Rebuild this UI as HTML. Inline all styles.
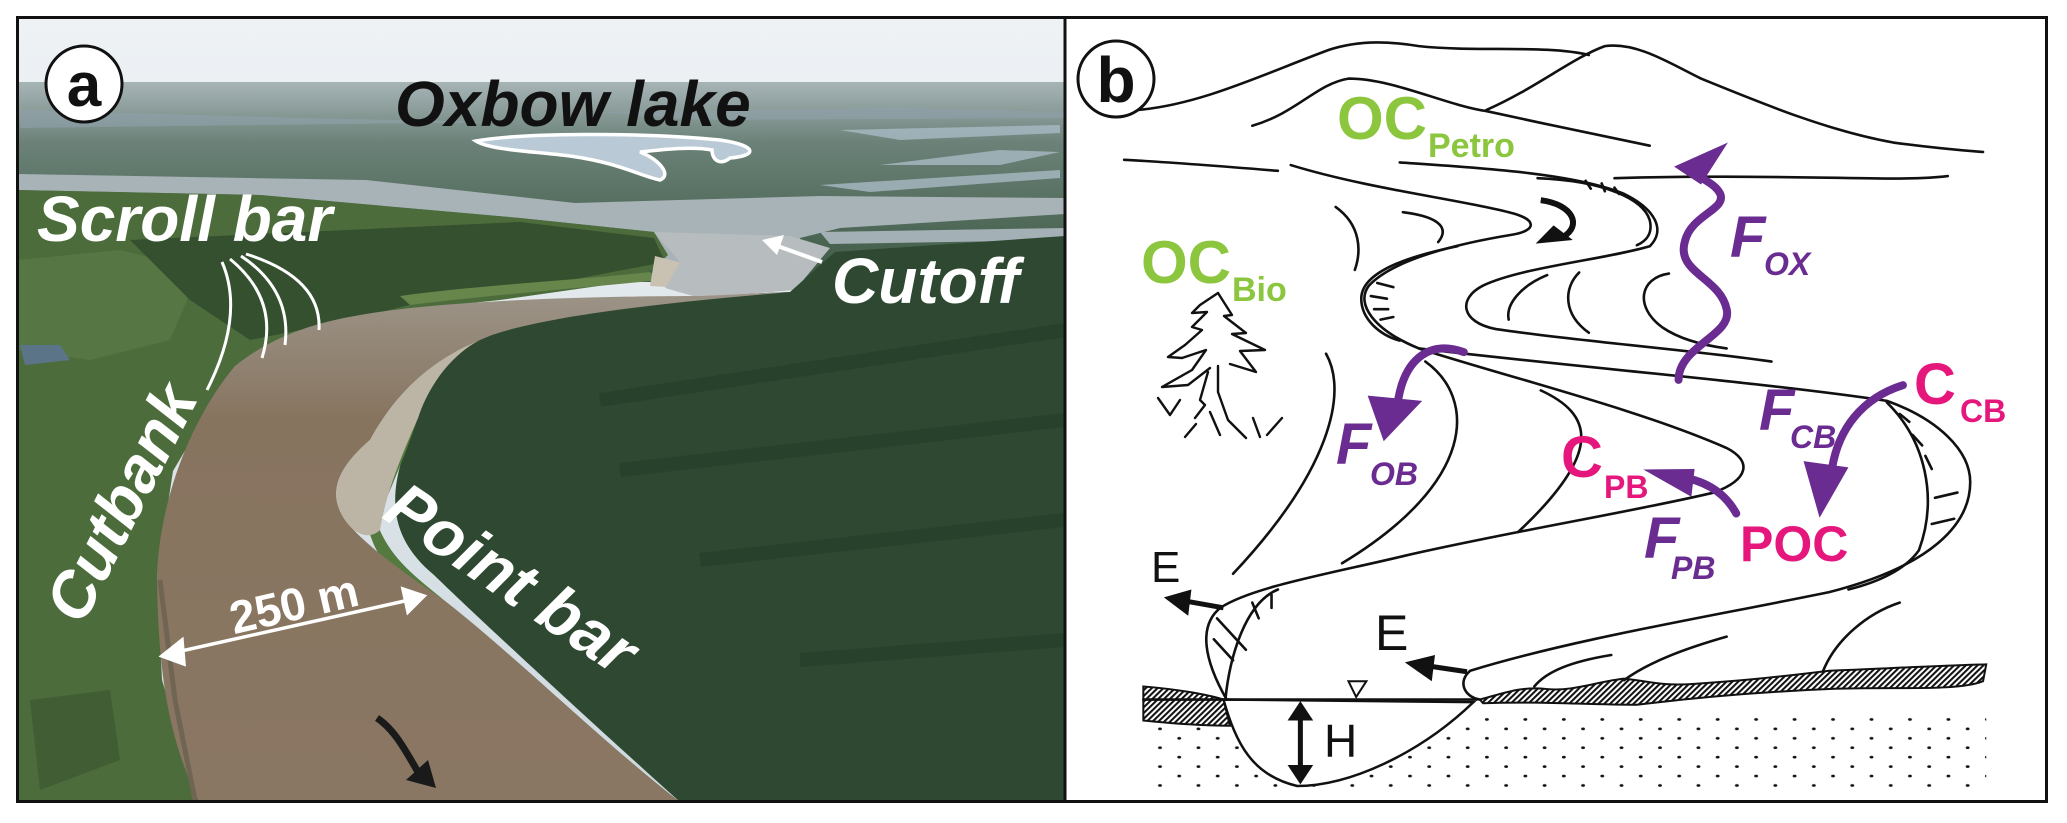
<!DOCTYPE html>
<html><head><meta charset="utf-8"><style>
html,body{margin:0;padding:0;background:#fff;width:2067px;height:823px;overflow:hidden}
svg{display:block}
text{font-family:"Liberation Sans",Arial,sans-serif}
</style></head><body>
<svg width="2067" height="823" viewBox="0 0 2067 823" xmlns="http://www.w3.org/2000/svg">
<defs>
<linearGradient id="sky" x1="0" y1="0" x2="0" y2="1">
<stop offset="0" stop-color="#eef2f5"/><stop offset="1" stop-color="#cdd8de"/></linearGradient>
<linearGradient id="far" x1="0" y1="0" x2="0" y2="1">
<stop offset="0" stop-color="#a7b4b7"/><stop offset="0.3" stop-color="#6c8279"/><stop offset="1" stop-color="#3c5842"/></linearGradient>
<linearGradient id="riv" x1="0" y1="0" x2="0" y2="1">
<stop offset="0" stop-color="#9c9488"/><stop offset="0.25" stop-color="#87745f"/><stop offset="1" stop-color="#8a7763"/></linearGradient>
<clipPath id="ca"><rect x="17" y="17" width="1048" height="785"/></clipPath>
<pattern id="dots" width="60" height="36" patternUnits="userSpaceOnUse">
<ellipse cx="6" cy="5" rx="3" ry="2.6" fill="#111"/><ellipse cx="36" cy="23" rx="3" ry="2.6" fill="#111"/></pattern>
<pattern id="hatch" width="7" height="7" patternUnits="userSpaceOnUse" patternTransform="rotate(40)">
<rect width="7" height="7" fill="#fff"/><rect width="3.5" height="7" fill="#111"/></pattern>
</defs>

<!-- PANEL A -->
<g clip-path="url(#ca)">
<rect x="17" y="17" width="1048" height="785" fill="url(#sky)"/>
<rect x="17" y="82" width="1048" height="200" fill="url(#far)"/>
<path d="M20,110 L300,118 L500,122 L20,128Z M600,112 L900,108 L1065,112 L1065,118 L700,120Z" fill="#8fa2ab" opacity="0.6"/>
<path d="M840,130 L1060,125 L1060,133 L900,140Z M880,165 L1000,150 L1060,152 L1000,165Z M820,185 L1060,170 L1060,178 L870,192Z" fill="#a9bac4" opacity="0.8"/>
<path d="M17,174 L366,180 L575,203 L820,196 L1065,198 L1065,214 L840,228 L800,238 L790,285 L700,292 L660,282 L654,232 L520,218 L260,195 L17,190Z" fill="#a8b3b8"/>
<path d="M820,232 L1065,228 L1065,240 L830,244Z" fill="#a3b0b6"/>
<path d="M17,190 L260,195 L520,218 L654,232 L668,255 L640,280 L500,300 L366,314 L235,366 L173,471 L157,575 L162,680 L199,802 L17,802Z" fill="#4d6c3c"/>
<path d="M17,260 L120,250 L200,270 L170,340 L90,360 L17,350Z" fill="#5a7a47" opacity="0.7"/>
<path d="M20,345 L60,345 L70,360 L25,365Z" fill="#5b7488"/>
<path d="M30,700 L110,690 L120,760 L40,790Z" fill="#3d5a32" opacity="0.8"/>
<path d="M130,240 L520,222 L654,238 L665,262 L560,282 L430,300 L340,322 L250,340 L190,300Z" fill="#34502f"/>
<path d="M400,296 C480,285 580,280 650,272 L660,280 C580,288 480,296 410,305Z" fill="#66864c"/>
<path d="M655,256 L690,265 L685,288 L650,286Z" fill="#c9c2b2"/>
<path d="M654,232 L790,236 L830,248 L795,290 L700,298 L665,288 L680,262Z" fill="#b7bdbf"/>
<path d="M492,330 C600,305 700,295 790,292 L835,252 L1065,236 L1065,802 L680,802 C600,730 480,620 434,575 C380,530 390,480 418,418 C430,380 460,345 492,330Z" fill="#2e4831"/>
<path d="M600,400 L1065,330 M620,470 L1065,420 M700,560 L1065,520 M800,660 L1065,640" stroke="#243b28" stroke-width="14" opacity="0.5"/>
<path d="M418,418 C400,470 385,500 377,523 C390,560 420,580 445,601 C520,660 600,740 680,802 L640,802 C560,730 470,640 420,600 C370,560 360,520 370,490Z" fill="#557a3f"/>
<path d="M366,314 C450,300 600,296 700,296 L790,292 C700,300 560,312 492,335 C440,355 400,385 370,440 C335,470 328,495 345,520 C365,545 400,570 445,601 C520,660 600,740 680,802 L199,802 C170,740 158,680 157,575 C160,500 190,420 235,366 C280,330 330,320 366,314Z" fill="url(#riv)"/>
<path d="M492,335 C440,355 400,385 370,440 C335,470 328,495 345,520 C355,535 370,540 380,530 C385,500 395,470 418,418 C430,380 460,345 492,335Z" fill="#bcb4a4"/>
<path d="M160,580 L175,700 L195,800" stroke="#6f6552" stroke-width="5" fill="none"/>
<path d="M476,141 C520,133 640,132 720,140 C760,146 756,156 730,158 C720,166 712,160 712,150 C690,146 660,150 640,152 C660,160 672,175 660,180 C640,176 620,163 570,156 C530,151 490,150 476,141Z" fill="#b9cad6" stroke="#fff" stroke-width="3.5"/>
<g stroke="#fff" stroke-width="3" fill="none">
<path d="M207,390 Q245,315 222,262"/><path d="M262,358 Q280,300 230,259"/><path d="M285,345 Q292,290 241,256"/><path d="M319,330 Q322,278 246,254"/>
</g>
<g stroke="#fff" stroke-width="3.5" fill="#fff">
<line x1="168" y1="654" x2="418" y2="598"/>
<path d="M162,656 L182,640 L184,664Z"/><path d="M424,596 L403,589 L408,612Z"/>
</g>
<line x1="772" y1="244" x2="822" y2="262" stroke="#fff" stroke-width="4"/>
<path d="M762,240 L784,235 L777,255Z" fill="#fff"/>
<path d="M377,718 C395,730 405,750 418,772" stroke="#1a1a1a" stroke-width="7" fill="none"/>
<path d="M436,788 L406,780 L428,760Z" fill="#1a1a1a"/>
</g>
<text x="395" y="126" font-size="64" font-weight="bold" font-style="italic" fill="#111">Oxbow lake</text>
<text x="37" y="241" font-size="64" font-weight="bold" font-style="italic" fill="#fff">Scroll bar</text>
<text x="832" y="303" font-size="64" font-weight="bold" font-style="italic" fill="#fff">Cutoff</text>
<g transform="translate(120,502) rotate(-63)"><text x="0" y="23" text-anchor="middle" font-size="64" font-weight="bold" font-style="italic" fill="#fff">Cutbank</text></g>
<g transform="translate(512,578) rotate(34)"><text x="0" y="23" text-anchor="middle" font-size="66" font-weight="bold" font-style="italic" fill="#fff">Point bar</text></g>
<g transform="translate(294,604) rotate(-13)"><text x="0" y="16" text-anchor="middle" font-size="46" font-weight="bold" fill="#fff">250 m</text></g>
<circle cx="84" cy="84" r="38" fill="#fff" stroke="#111" stroke-width="3"/>
<text x="84" y="106" text-anchor="middle" font-size="62" font-weight="bold" fill="#111">a</text>

<!-- PANEL B -->
<g transform="translate(1060,0) scale(0.641,0.524)">
<rect x="130" y="1360" width="1315" height="145" fill="url(#dots)"/>
<path d="M255,1335 C275,1420 300,1480 370,1500 C450,1500 560,1440 645,1340Z" fill="#fff" stroke="#111" stroke-width="2.5" vector-effect="non-scaling-stroke"/>
<path d="M130,1310 C180,1315 230,1325 255,1335 L265,1385 C220,1385 170,1380 130,1375Z" fill="url(#hatch)" stroke="#111" stroke-width="2" vector-effect="non-scaling-stroke"/>
<path d="M655,1335 C700,1320 720,1310 760,1315 C800,1320 840,1300 880,1295 C920,1300 940,1310 990,1305 C1050,1300 1100,1295 1200,1280 C1300,1275 1380,1270 1445,1268 L1440,1300 C1400,1320 1300,1310 1200,1315 C1100,1320 1000,1330 900,1345 C820,1345 750,1338 660,1342Z" fill="url(#hatch)" stroke="#111" stroke-width="2" vector-effect="non-scaling-stroke"/>
<g fill="none" stroke="#111" stroke-width="2.6" stroke-linecap="round">
<path vector-effect="non-scaling-stroke" d="M120,210 C220,200 320,140 420,95 C470,75 520,80 560,88 C650,100 760,85 825,105"/>
<path vector-effect="non-scaling-stroke" d="M300,240 C370,215 400,160 450,150 C520,150 600,200 665,212 C750,235 850,260 920,278"/>
<path vector-effect="non-scaling-stroke" d="M665,210 C740,170 800,110 850,88 C900,80 950,120 1000,150 C1100,200 1200,250 1300,272 C1380,285 1420,288 1440,290"/>
<path vector-effect="non-scaling-stroke" d="M100,305 C180,310 260,318 340,326"/>
<path vector-effect="non-scaling-stroke" d="M865,340 C1000,335 1150,338 1250,340 C1320,342 1360,340 1385,336"/>
<path vector-effect="non-scaling-stroke" d="M360,315 C480,360 620,380 700,405 C745,418 745,440 705,448 C620,465 520,495 482,545 C460,580 490,630 560,665 C700,720 900,780 1040,855 C1080,880 1075,915 1020,940 C900,975 700,1015 540,1060 C420,1095 300,1120 250,1160 C215,1195 225,1260 260,1335"/>
<path vector-effect="non-scaling-stroke" d="M530,310 C650,320 800,330 880,370 C930,400 945,440 920,470 C850,495 720,510 660,545 C620,570 625,615 680,628 C800,650 1000,670 1110,690"/>
<path vector-effect="non-scaling-stroke" d="M745,340 C850,345 910,380 920,420 C925,445 915,460 900,468"/>
<path vector-effect="non-scaling-stroke" d="M620,470 C540,490 470,520 470,570 C470,610 500,640 530,650"/>
<path vector-effect="non-scaling-stroke" d="M560,665 C800,700 1100,730 1290,765 C1370,800 1420,860 1420,920 C1420,1000 1360,1080 1200,1130 C1000,1180 800,1220 640,1280 C620,1300 630,1330 655,1335"/>
<path vector-effect="non-scaling-stroke" d="M1290,768 C1350,840 1370,950 1340,1050 C1320,1085 1280,1110 1230,1125"/>
<path vector-effect="non-scaling-stroke" d="M340,1125 C290,1150 265,1250 258,1335"/>
<path vector-effect="non-scaling-stroke" d="M130,1335 L650,1335"/>
<path vector-effect="non-scaling-stroke" d="M430,395 C470,430 470,480 460,515"/>
<path vector-effect="non-scaling-stroke" d="M535,405 C600,415 605,440 590,462"/>
<path vector-effect="non-scaling-stroke" d="M415,675 C450,750 420,900 270,1095"/>
<path vector-effect="non-scaling-stroke" d="M570,690 C650,760 650,920 440,1075"/>
<path vector-effect="non-scaling-stroke" d="M750,745 C830,790 850,860 715,1015"/>
<path vector-effect="non-scaling-stroke" d="M760,525 C720,545 695,580 700,610"/>
<path vector-effect="non-scaling-stroke" d="M810,520 C785,550 785,600 825,635"/>
<path vector-effect="non-scaling-stroke" d="M950,522 C905,530 895,585 940,625 C970,650 1010,660 1040,665"/>
<path vector-effect="non-scaling-stroke" d="M740,1310 C760,1280 800,1262 860,1250"/>
<path vector-effect="non-scaling-stroke" d="M880,1298 C920,1262 980,1236 1040,1215"/>
<path vector-effect="non-scaling-stroke" d="M1190,1282 C1210,1220 1260,1170 1310,1150"/>
<path vector-effect="non-scaling-stroke" d="M820,345 L828,360 M845,350 L850,365 M865,358 L872,370 M495,540 L520,548 M485,565 L510,570 M490,590 L512,590 M500,610 L520,605 M1310,790 L1325,805 M1330,830 L1345,850 M1350,870 L1360,895 M1365,950 L1400,940 M1360,1000 L1395,990 M245,1180 L290,1240 M240,1220 L270,1260 M300,1150 L310,1180 M330,1135 L330,1160"/>
</g>
<path d="M450,1300 L478,1300 L462,1330Z" fill="#fff" stroke="#111" stroke-width="2" vector-effect="non-scaling-stroke"/>
<line x1="375" y1="1365" x2="375" y2="1470" stroke="#111" stroke-width="5" vector-effect="non-scaling-stroke"/>
<path d="M375,1338 L355,1375 L395,1375Z M375,1497 L355,1460 L395,1460Z" fill="#111"/>
<line x1="255" y1="1160" x2="200" y2="1148" stroke="#111" stroke-width="5" vector-effect="non-scaling-stroke"/>
<path d="M162,1140 L205,1125 L200,1175Z" fill="#111"/>
<line x1="635" y1="1282" x2="580" y2="1272" stroke="#111" stroke-width="5" vector-effect="non-scaling-stroke"/>
<path d="M538,1264 L585,1250 L580,1300Z" fill="#111"/>
<path d="M750,382 C800,390 815,430 785,452" fill="none" stroke="#111" stroke-width="6" vector-effect="non-scaling-stroke"/>
<path d="M742,465 L770,430 L800,458Z" fill="#111"/>
<g fill="none" stroke="#6a2c91" stroke-width="8" stroke-linecap="round">
<path vector-effect="non-scaling-stroke" d="M965,725 C965,660 1050,640 1040,590 C1030,530 960,520 975,460 C985,410 1040,400 1030,370 C1020,345 990,340 995,325"/>
<path vector-effect="non-scaling-stroke" d="M630,672 C580,650 540,680 528,760"/>
<path vector-effect="non-scaling-stroke" d="M1055,980 C1035,935 1000,915 965,910"/>
<path vector-effect="non-scaling-stroke" d="M1315,735 C1250,760 1215,820 1205,890"/>
</g>
<g fill="#6a2c91">
<path d="M1042,272 L958,318 L1000,352Z"/>
<path d="M505,842 L480,755 L565,765Z"/>
<path d="M910,896 L990,895 L985,948Z"/>
<path d="M1185,988 L1160,880 L1230,892Z"/>
</g>
</g>
<g fill="none" stroke="#111" stroke-width="2.4" stroke-linecap="round" stroke-linejoin="round">
<path d="M1218,293 L1200,305 L1192,313 L1207,312 L1192,327 L1202,330 L1185,345 L1168,357 L1182,358 L1206,350 L1192,370 L1162,387 L1188,385 L1210,368"/>
<path d="M1218,293 L1232,315 L1224,316 L1246,333 L1232,334 L1265,350 L1240,351 L1256,372 L1230,364"/>
<path d="M1208,372 L1200,400 L1205,405 L1195,418"/>
<path d="M1218,366 L1218,392 L1228,420 L1246,438"/>
<path d="M1210,412 L1220,435"/>
<path d="M1158,398 L1170,415 L1180,400"/>
<path d="M1196,424 L1185,437"/>
<path d="M1253,418 L1260,437"/>
<path d="M1282,418 L1267,435"/>
</g>
<circle cx="1116" cy="79" r="38" fill="#fff" stroke="#111" stroke-width="3"/>
<text x="1116" y="102" text-anchor="middle" font-size="64" font-weight="bold" fill="#111">b</text>
<g font-weight="bold" fill="#8cc63f">
<text x="1337" y="139" font-size="60">OC</text><text x="1428" y="157" font-size="34">Petro</text>
<text x="1141" y="283" font-size="60">OC</text><text x="1232" y="301" font-size="34">Bio</text>
</g>
<g font-weight="bold" font-style="italic" fill="#6a2c91">
<text x="1730" y="257" font-size="58">F</text><text x="1764" y="275" font-size="32">OX</text>
<text x="1336" y="464" font-size="58">F</text><text x="1370" y="485" font-size="32">OB</text>
<text x="1644" y="558" font-size="58">F</text><text x="1671" y="579" font-size="32">PB</text>
<text x="1759" y="430" font-size="58">F</text><text x="1790" y="448" font-size="32">CB</text>
</g>
<g font-weight="bold" fill="#e5177d">
<text x="1561" y="477" font-size="58">C</text><text x="1604" y="498" font-size="32">PB</text>
<text x="1914" y="404" font-size="58">C</text><text x="1960" y="422" font-size="32">CB</text>
<text x="1740" y="561" font-size="50">POC</text>
</g>
<g fill="#111">
<text x="1151" y="582" font-size="44">E</text>
<text x="1375" y="650" font-size="50">E</text>
<text x="1324" y="757" font-size="46">H</text>
</g>
<rect x="17.5" y="17.5" width="2029" height="784" fill="none" stroke="#111" stroke-width="3"/>
<line x1="1065" y1="17" x2="1065" y2="802" stroke="#111" stroke-width="3"/>
</svg>
</body></html>
